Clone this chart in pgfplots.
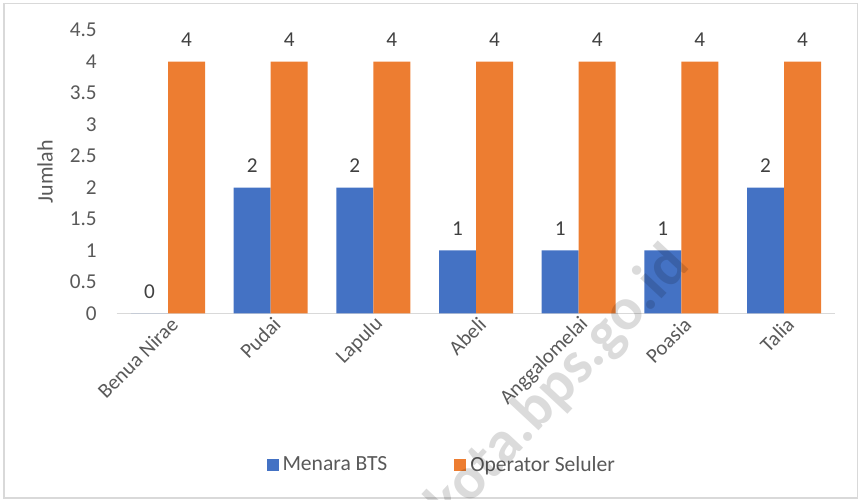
\documentclass[border=0pt]{standalone}
\usepackage{pgfplots}
\pgfplotsset{compat=1.18}
\usepackage{fontspec}
\setmainfont{Carlito}
\definecolor{bblue}{HTML}{4472C4}
\definecolor{borange}{HTML}{ED7D31}
\definecolor{axgray}{HTML}{D9D9D9}
\definecolor{txtgray}{HTML}{595959}
\definecolor{lblgray}{HTML}{404040}
\begin{document}
\begin{tikzpicture}[x=1pt,y=1pt]
\useasboundingbox (0,0) rectangle (430.5,249.5);
\draw[axgray, line width=0.7pt] (2,0.6) rectangle (428.6,247.6);
\begin{axis}[
  at={(58.35pt,92.85pt)}, anchor=south west,
  x=51.33pt, y=31.45pt,
  xmin=-0.5, xmax=6.5, ymin=0, ymax=4.5,
  ybar=0pt, bar width=18.5pt,
  axis x line*=bottom, axis y line*=left,
  x axis line style={draw=axgray, line width=0.8pt, -},
  y axis line style={draw=none},
  major tick length=0pt,
  /pgf/number format/assume math mode=true,
  xtick=data,
  xticklabels={Benua Nirae,Pudai,Lapulu,Abeli,Anggalomelai,Poasia,Talia},
  ytick={0,0.5,1,1.5,2,2.5,3,3.5,4,4.5},
  yticklabels={0,0.5,1,1.5,2,2.5,3,3.5,4,4.5},
  tick label style={text=txtgray},
  yticklabel style={font=\fontsize{10.6}{12}\selectfont, xshift=-6.5pt},
  xticklabel style={font=\fontsize{10.4}{12}\selectfont, rotate=45, anchor=east, xshift=3pt, yshift=-5pt},
  nodes near coords,
  every node near coord/.append style={font=\fontsize{10.6}{12}\selectfont, text=lblgray, yshift=4pt},
  legend columns=2,
  legend style={at={(0.4537,-0.536)}, anchor=center, draw=none, fill=none,
    font=\fontsize{10.8}{12}\selectfont, text=txtgray,
    /tikz/every even column/.append style={column sep=31.5pt}},
  legend image code/.code={\fill[#1, draw=none] (0pt,-3pt) rectangle (6pt,3pt);},
  clip=false,
]
\addplot[fill=bblue, draw=none] coordinates {(0,0) (1,2) (2,2) (3,1) (4,1) (5,1) (6,2)};
\addplot[fill=borange, draw=none] coordinates {(0,4) (1,4) (2,4) (3,4) (4,4) (5,4) (6,4)};
\legend{Menara BTS, Operator Seluler}
\end{axis}
\node[rotate=90, text=txtgray, font=\fontsize{11}{12}\selectfont] at (22.5,163.6) {Jumlah};
\begin{scope}
\clip (0,0) rectangle (430.5,249.5);
\node[rotate=47, anchor=base east, inner sep=0pt, font=\fontsize{30}{32}\selectfont\bfseries, text=black, opacity=0.14] at (346,116) {kendarikota.bps.go.id};
\end{scope}
\end{tikzpicture}
\end{document}
